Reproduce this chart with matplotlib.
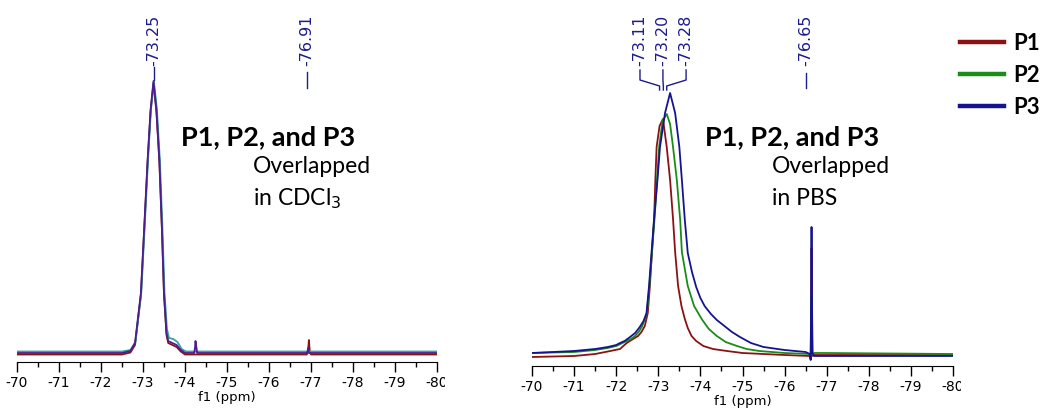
import matplotlib
matplotlib.use("Agg")
import matplotlib.pyplot as plt
from matplotlib.lines import Line2D
from matplotlib.transforms import Bbox

plt.rcParams["axes.unicode_minus"] = False
plt.rcParams["font.family"] = "DejaVu Sans"

W, H = 1055, 408

# ---- left panel: CDCl3 (intensity above baseline, arbitrary units) ----
cdcl3_ppm_p1 = [-70, -72.5, -72.7, -72.81, -72.95, -73.03, -73.11, -73.18, -73.25, -73.32,
                -73.39, -73.45, -73.5, -73.56, -73.6, -73.7, -73.8, -73.9, -74.0, -76.9,
                -76.93, -76.95, -76.97, -77.0, -80]
cdcl3_int_p1 = [-1.5, -1.5, 0.5, 8, 58, 124, 191, 241, 270, 241,
                191, 124, 58, 18, 10, 8, 6, 1.5, -1.5, -1.5,
                2, 13, 2, -1.5, -1.5]

cdcl3_ppm_p2 = [-70, -72.5, -72.7, -72.82, -72.96, -73.04, -73.12, -73.19, -73.26, -73.33,
                -73.4, -73.46, -73.51, -73.57, -73.62, -73.72, -73.82, -73.92, -74.02, -80]
cdcl3_int_p2 = [1.5, 1.5, 3, 11, 61, 127, 194, 244, 271, 244,
                194, 128, 62, 24, 15, 14, 11, 4, 1.5, 1.5]

cdcl3_ppm_p3 = [-70, -72.5, -72.7, -72.81, -72.95, -73.03, -73.11, -73.18, -73.25, -73.32,
                -73.39, -73.45, -73.5, -73.56, -73.6, -73.7, -73.8, -73.9, -74.0, -74.22,
                -74.24, -74.25, -74.27, -74.29, -76.9, -76.92, -76.93, -76.95, -80]
cdcl3_int_p3 = [0, 0, 2, 10, 60, 126, 193, 243, 272, 243,
                193, 126, 60, 20, 12, 10, 8, 3, 0, 0,
                6, 12, 6, 0, 0, 2, 5, 0, 0]

# ---- right panel: PBS ----
pbs_ppm_p1 = [-70, -71, -71.5, -71.8, -72.09, -72.25, -72.4, -72.52, -72.6, -72.68,
              -72.75, -72.8, -72.85, -72.9, -72.93, -72.96, -73.03, -73.11, -73.2, -73.28,
              -73.35, -73.4, -73.47, -73.55, -73.63, -73.7, -73.79, -73.9, -74.07, -74.3,
              -74.63, -75.0, -76.0, -76.6, -76.62, -76.64, -76.66, -76.68, -76.75, -80]
pbs_int_p1 = [-1, 0, 2, 4.5, 7, 13, 17, 20, 24, 30,
              43, 70, 104, 137, 176, 209, 230, 237, 209, 176,
              137, 104, 70, 50, 37, 28, 20, 15, 10, 7,
              5, 3, 1, 0, -3, 108, 0, 1, 1, 1]

pbs_ppm_p2 = [-70, -71, -71.5, -71.8, -72.0, -72.2, -72.35, -72.45, -72.55, -72.62,
              -72.73, -72.79, -72.85, -72.91, -72.97, -73.02, -73.1, -73.2, -73.28, -73.35,
              -73.44, -73.52, -73.56, -73.7, -73.85, -74.03, -74.2, -74.39, -74.6, -74.87,
              -75.1, -75.4, -76.0, -76.6, -76.62, -76.64, -76.66, -76.7, -77, -80]
pbs_int_p2 = [3, 4, 6, 8, 10, 14, 17, 20, 25, 30,
              43, 70, 104, 137, 176, 209, 235, 242, 232, 209,
              176, 136, 104, 70, 50, 37, 27, 20, 14, 10,
              7, 5, 3, 2, -3, 58, 2, 3, 3, 2]

pbs_ppm_p3 = [-70, -71, -71.5, -71.8, -72.0, -72.09, -72.2, -72.33, -72.45, -72.56,
              -72.65, -72.72, -72.78, -72.84, -72.9, -72.98, -73.04, -73.16, -73.28, -73.4,
              -73.5, -73.56, -73.63, -73.7, -73.8, -73.9, -74.0, -74.1, -74.25, -74.39,
              -74.6, -74.75, -74.94, -75.2, -75.5, -76.0, -76.5, -76.6, -76.62, -76.64,
              -76.66, -76.7, -77, -80]
pbs_int_p3 = [3, 5, 7, 9, 11, 13, 15, 19, 23, 29,
              35, 43, 70, 104, 137, 176, 209, 243, 263, 243,
              209, 176, 136, 103, 84, 69, 58, 50, 42, 36,
              29, 24, 19, 13, 9, 6, 4, 2, -4, 129,
              3, 0, 0, 0]

series_names = ["P1", "P2", "P3"]
cdcl3_colors = ["#8b1212", "#35a3a3", "#4b1d8f"]
pbs_colors = ["#8b1212", "#1a8c1a", "#141490"]
label_color = "#1c1c8c"

cdcl3_peaks = [-73.25, -76.91]
pbs_peaks = [-73.11, -73.20, -73.28, -76.65]
ticks = list(range(-70, -81, -1))


def px_box(x0, y_bottom, x1, y_top):
    return [x0 / W, 1 - y_bottom / H, (x1 - x0) / W, (y_bottom - y_top) / H]


def style_axis(ax, clip_x):
    ax.set_xlim(-70, -80)
    for s in ("left", "right", "top"):
        ax.spines[s].set_visible(False)
    ax.set_yticks([])
    ax.set_xticks(ticks)
    ax.set_xticks([t - 0.5 for t in ticks[:-1]], minor=True)
    ax.set_xticklabels([str(t) for t in ticks], fontsize=10)
    ax.tick_params(axis="x", which="major", length=7, width=1, pad=3)
    ax.tick_params(axis="x", which="minor", length=3.5, width=1)
    ax.set_xlabel("f1 (ppm)", fontsize=9.5, labelpad=0.5)
    ax.patch.set_alpha(0)
    box = Bbox.from_extents(0, 0, clip_x, H)
    for lbl in ax.get_xticklabels():
        lbl.set_clip_on(True)
        lbl.set_clip_box(box)


fig = plt.figure(figsize=(W / 100, H / 100), dpi=100)

# left panel: baseline at pixel row 353, axis line at 362
axl = fig.add_axes(px_box(17, 362, 437, 0))
axl.set_ylim(-9, 353)
for ppm, inten, c in zip([cdcl3_ppm_p1, cdcl3_ppm_p2, cdcl3_ppm_p3],
                         [cdcl3_int_p1, cdcl3_int_p2, cdcl3_int_p3], cdcl3_colors):
    axl.plot(ppm, inten, color=c, lw=1.3)
style_axis(axl, 445)

# right panel: baseline at pixel row 356, axis line at 366
axr = fig.add_axes(px_box(532, 366, 953, 0))
axr.set_ylim(-10, 356)
for ppm, inten, c, name in zip([pbs_ppm_p1, pbs_ppm_p2, pbs_ppm_p3],
                               [pbs_int_p1, pbs_int_p2, pbs_int_p3], pbs_colors, series_names):
    axr.plot(ppm, inten, color=c, lw=1.3, label=name)
style_axis(axr, 961)

# peak labels, left
lab_kw = dict(rotation=90, ha="center", va="bottom", fontsize=11.5, color=label_color)
axl.text(cdcl3_peaks[0], 353 - 66, f"{cdcl3_peaks[0]:.2f}", **lab_kw)
axl.plot([cdcl3_peaks[0]] * 2, [353 - 67, 353 - 80], color=label_color, lw=1)
axl.text(cdcl3_peaks[1], 353 - 66, f"{cdcl3_peaks[1]:.2f}", **lab_kw)
axl.plot([cdcl3_peaks[1]] * 2, [353 - 72, 353 - 88], color=label_color, lw=1)

# peak labels, right (three clustered peaks spread out with brackets)
spread = [-72.565, -73.11, -73.66, -76.50]
for pk, lx in zip(pbs_peaks[:3], spread[:3]):
    axr.text(lx, 356 - 66, f"{pk:.2f}", **lab_kw)
    end = pk + 0.08
    axr.plot([lx, lx, end, end], [356 - 70, 356 - 80, 356 - 86, 356 - 90],
             color=label_color, lw=1)
axr.text(spread[3], 356 - 66, f"{pbs_peaks[3]:.2f}", **lab_kw)
axr.plot([spread[3]] * 2, [356 - 73, 356 - 88], color=label_color, lw=1)


# annotations
def ftext(x, y, s, **kw):
    fig.text(x / W, 1 - y / H, s, va="baseline", ha="left", family="Lato", **kw)


ftext(181, 145, "P1, P2, and P3", fontsize=19.5, fontweight="bold")
ftext(253, 173, "Overlapped", fontsize=16.5)
ftext(253, 205, "in CDCl$_3$", fontsize=16.5)
ftext(705, 145, "P1, P2, and P3", fontsize=19.5, fontweight="bold")
ftext(772, 173, "Overlapped", fontsize=16.5)
ftext(772, 205, "in PBS", fontsize=16.5)

handles = [Line2D([], [], color=c, lw=3.2) for c in pbs_colors]
fig.legend(handles, series_names, loc="upper left",
           bbox_to_anchor=(960 / W, 1 - 33 / H), frameon=False, borderpad=0,
           borderaxespad=0, handlelength=1.98, handletextpad=0.4, labelspacing=0.5,
           prop=dict(family="Lato", weight="bold", size=16))

fig.savefig("out.png", dpi=100)
